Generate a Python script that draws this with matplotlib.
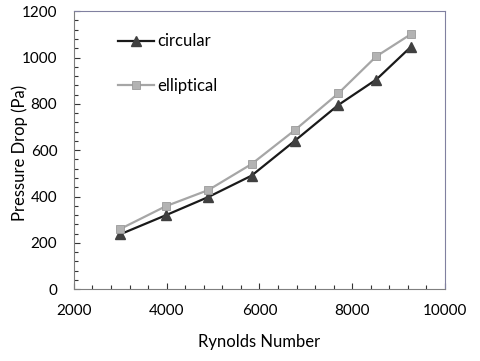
import matplotlib.pyplot as plt
from matplotlib.ticker import MultipleLocator

# Data
reynolds = [3000, 3980, 4900, 5830, 6760, 7700, 8520, 9260]
circular = [237, 319, 398, 490, 640, 795, 905, 1045]
elliptical = [260, 358, 428, 540, 686, 845, 1005, 1100]

plt.rcParams['font.family'] = ['Lato', 'DejaVu Sans']

fig = plt.figure(figsize=(4.8, 3.61), dpi=100)
ax = fig.add_axes([0.154, 0.199, 0.773, 0.770])

ax.plot(reynolds, circular, color='#1a1a1a', lw=1.6, marker='^', ms=6.5,
        mfc='#404040', mec='#404040', label='circular')
ax.plot(reynolds, elliptical, color='#a6a6a6', lw=1.6, marker='s', ms=6,
        mfc='#b3b3b3', mec='#9a9a9a', mew=0.6, label='elliptical')

ax.set_xlim(2000, 10000)
ax.set_ylim(0, 1200)
ax.xaxis.set_major_locator(MultipleLocator(2000))
ax.xaxis.set_minor_locator(MultipleLocator(400))
ax.yaxis.set_major_locator(MultipleLocator(200))
ax.yaxis.set_minor_locator(MultipleLocator(40))
ax.tick_params(which='both', direction='in', labelsize=11, colors='#333333',
               labelcolor='black')
ax.tick_params(which='major', length=4, width=0.8)
ax.tick_params(which='minor', length=3, width=0.8)
ax.tick_params(axis='x', pad=11)
ax.tick_params(axis='y', pad=12)

for side in ['left', 'bottom']:
    ax.spines[side].set_color('#7f7f7f')
for side in ['top', 'right']:
    ax.spines[side].set_color('#8080a0')

ax.set_xlabel('Rynolds Number', fontsize=12)
ax.set_ylabel('Pressure Drop (Pa)', fontsize=12)
ax.xaxis.set_label_coords(0.499, -0.16)
ax.yaxis.set_label_coords(-0.125, 0.49)

ax.legend(loc='upper left', bbox_to_anchor=(0.118, 0.92), frameon=False,
          fontsize=12, handlelength=2.2, handletextpad=0.2,
          labelspacing=1.7, borderpad=0, borderaxespad=0)

fig.savefig('out.png', dpi=100)
